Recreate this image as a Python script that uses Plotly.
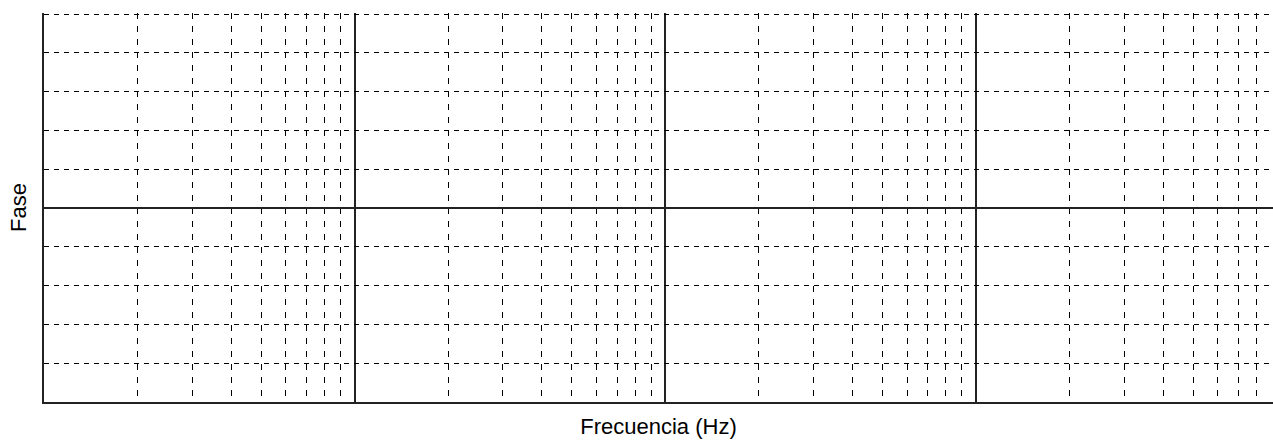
import plotly.graph_objects as go

# Tick values (blank semilog phase chart: no data series)
freq_decades = [1, 10, 100, 1000]
freq_minor_mult = [2, 3, 4, 5, 6, 7, 8, 9]
phase_ticks = [-180, -144, -108, -72, -36, 0, 36, 72, 108, 144, 180]
freq_data = []
phase_data = []

freq_minor = [d * m for d in freq_decades for m in freq_minor_mult]

fig = go.Figure()
fig.add_trace(go.Scatter(x=freq_data, y=phase_data, mode="lines",
                         line=dict(color="black"), showlegend=False))

font = dict(family="Liberation Sans, Arial, sans-serif", size=22, color="black")

fig.update_layout(
    width=1273, height=440,
    margin=dict(l=44, r=0, t=13, b=38),
    paper_bgcolor="white", plot_bgcolor="white",
    showlegend=False,
    xaxis=dict(
        type="log", range=[0, 3.956],
        tickvals=freq_decades, showticklabels=False, ticks="",
        showgrid=True, gridcolor="#222", gridwidth=2, griddash="solid",
        minor=dict(tickvals=freq_minor, showgrid=True, gridcolor="black",
                   gridwidth=1, griddash="6px,7px", ticks=""),
        showline=True, linecolor="#222", linewidth=2, mirror=False,
        zeroline=False,
        title=dict(text="Frecuencia (Hz)", font=font, standoff=16),
    ),
    yaxis=dict(
        range=[-180, 181],
        tickvals=phase_ticks, showticklabels=False, ticks="",
        showgrid=True, gridcolor="black", gridwidth=1, griddash="5px,5px",
        zeroline=True, zerolinecolor="#222", zerolinewidth=2,
        showline=True, linecolor="#222", linewidth=2, mirror=False,
        title=dict(text="Fase", font=font, standoff=9),
    ),
)

fig.write_html(
    "out.html",
    config={"displayModeBar": False},
    post_script="document.body.style.margin='0';document.body.style.padding='0';",
)
